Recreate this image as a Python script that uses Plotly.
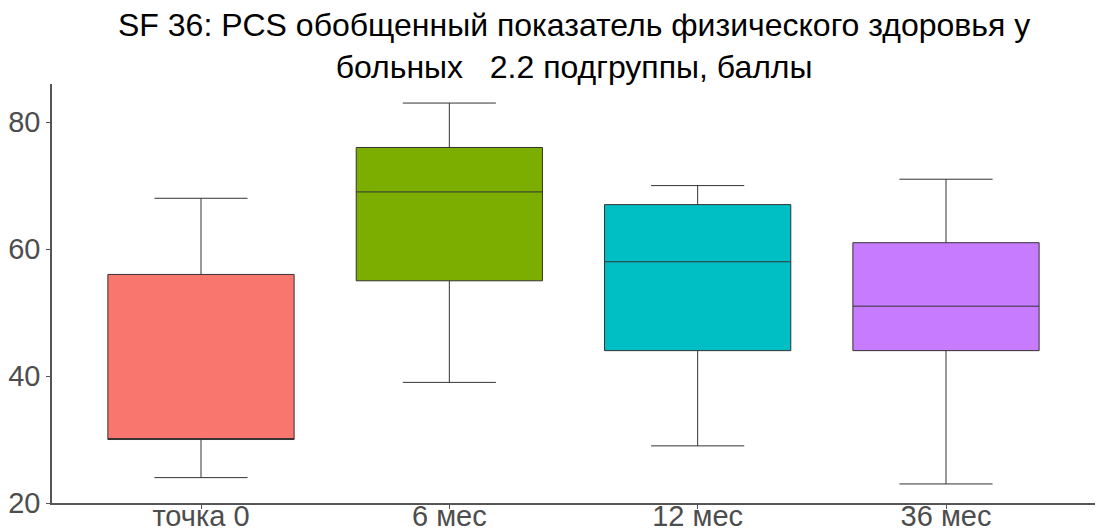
import plotly.graph_objects as go

categories = ["точка 0", "6 мес", "12 мес", "36 мес"]
lower_whisker = [24, 39, 29, 23]
q1 = [30, 55, 44, 44]
median = [30, 69, 58, 51]
q3 = [56, 76, 67, 61]
upper_whisker = [68, 83, 70, 71]
colors = ["#F8766D", "#7CAE00", "#00BFC4", "#C77CFF"]
y_ticks = [20, 40, 60, 80]
title_text = "SF 36: PCS обобщенный показатель физического здоровья у<br>больных   2.2 подгруппы, баллы"

fig = go.Figure()
for i, cat in enumerate(categories):
    fig.add_trace(go.Box(
        x=[cat],
        q1=[q1[i]], median=[median[i]], q3=[q3[i]],
        lowerfence=[lower_whisker[i]], upperfence=[upper_whisker[i]],
        fillcolor=colors[i],
        line=dict(color="#333333", width=1),
        width=0.75,
        whiskerwidth=0.5,
        boxpoints=False,
        showlegend=False,
        hoverinfo="skip",
    ))

fig.add_annotation(
    text=title_text, xref="paper", yref="paper", x=0.5, y=1,
    xanchor="center", yanchor="bottom", yshift=-3, showarrow=False,
    align="center",
    font=dict(size=32, color="black", family="Liberation Sans, Arial, sans-serif"),
)

fig.update_layout(
    width=1105, height=529,
    margin=dict(l=52, r=10, t=84, b=26),
    plot_bgcolor="white", paper_bgcolor="white",
    boxmode="overlay",
    font=dict(family="Liberation Sans, Arial, sans-serif", color="#4D4D4D"),
    xaxis=dict(
        type="category", categoryorder="array", categoryarray=categories,
        range=[-0.6, 3.6], automargin=False,
        showline=True, linecolor="#555555", linewidth=1.5,
        ticks="outside", ticklen=4, tickcolor="#555555",
        ticklabelstandoff=-18,
        showgrid=False, zeroline=False,
        tickfont=dict(size=29, color="#4D4D4D"),
    ),
    yaxis=dict(
        range=[20, 86], automargin=False,
        tickvals=y_ticks,
        showline=True, linecolor="#555555", linewidth=1.5,
        ticks="outside", ticklen=4, tickcolor="#555555",
        showgrid=False, zeroline=False,
        tickfont=dict(size=29, color="#4D4D4D"),
    ),
)

fig.write_html("out.html")
